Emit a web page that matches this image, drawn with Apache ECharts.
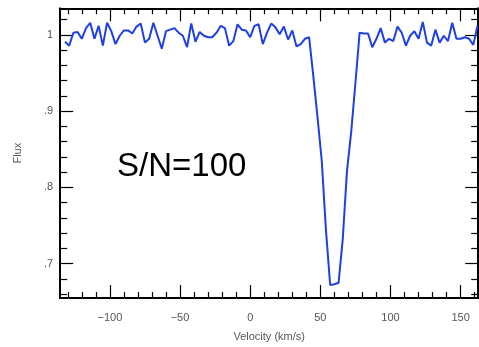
<!DOCTYPE html>
<html>
<head>
<meta charset="utf-8">
<script src="https://cdn.jsdelivr.net/npm/echarts@6/dist/echarts.min.js"></script>
<style>html,body{margin:0;padding:0;background:#fff}#c{width:479px;height:347px}</style>
</head>
<body>
<div id="c"></div>
<script>
const velocity = [-132,-129,-126,-123,-120,-117,-114,-111,-108,-105,-102,-99,-96,-93,-90,-87,-84,-81,-78,-75,-72,-69,-66,-63,-60,-57,-54,-51,-48,-45,-42,-39,-36,-33,-30,-27,-24,-21,-18,-15,-12,-9,-6,-3,0,3,6,9,12,15,18,21,24,27,30,33,36,39,42,45,48,51,54,57,60,63,66,69,72,75,78,81,84,87,90,93,96,99,102,105,108,111,114,117,120,123,126,129,132,135,138,141,144,147,150,153,156,159,162];
const flux = [0.991,0.986,1.003,1.004,0.995,1.009,1.016,0.995,1.012,0.986,1.016,1.005,0.988,0.999,1.006,1.006,1.002,1.011,1.015,0.990,0.995,1.016,0.999,0.982,1.005,1.007,1.009,1.003,0.999,0.984,1.015,0.991,1.004,0.999,0.997,0.997,1.003,1.012,1.009,0.986,0.992,1.014,
1.007,1.006,0.997,1.012,1.014,0.988,1.003,1.015,1.010,1.001,1.011,0.994,1.006,0.985,0.988,0.995,
0.997,0.946,0.892,0.835,0.744,0.672,0.673,0.675,0.733,0.822,0.873,0.937,
1.003,1.002,1.002,0.984,0.995,1.009,0.990,0.995,0.992,1.011,1.003,0.986,0.999,1.005,0.995,1.017,0.990,0.986,1.007,0.990,0.999,0.992,1.016,0.995,0.995,0.997,0.995,0.987,1.012];
const xMajorTicks = [-100,-50,0,50,100,150];
const xMinorTicks = [-130,-120,-110,-90,-80,-70,-60,-40,-30,-20,-10,10,20,30,40,60,70,80,90,110,120,130,140,160];
const yMajorTicks = [0.7,0.8,0.9,1.0];
const yMinorTicks = [0.66,0.68,0.72,0.74,0.76,0.78,0.82,0.84,0.86,0.88,0.92,0.94,0.96,0.98,1.02];
const labelText = 'S/N=100';
const xName = 'Velocity (km/s)';
const yName = 'Flux';

const X_MIN = -135.4, X_MAX = 162.5, Y_MIN = 0.655, Y_MAX = 1.035;
const lineStyle = {color:'#000', width:1.8};
const labelStyle = {color:'#555', fontFamily:'Liberation Sans', fontSize:11};

function xAx(pos, ticks, len, withLabel) {
  return {
    type:'value', position:pos, min:X_MIN, max:X_MAX,
    axisLine:{show:true, onZero:false, lineStyle},
    axisTick:{show:true, inside:true, length:len, customValues:ticks, lineStyle:{color:'#000', width:1.2}},
    axisLabel: withLabel ? Object.assign({show:true, customValues:ticks, margin:14,
      formatter:v => String(v).replace('-', '\u2212')}, labelStyle) : {show:false},
    splitLine:{show:false},
    name: withLabel ? xName : '', nameLocation:'middle', nameGap:33,
    nameTextStyle: labelStyle
  };
}
function yAx(pos, ticks, len, withLabel) {
  return {
    type:'value', position:pos, min:Y_MIN, max:Y_MAX,
    axisLine:{show:true, onZero:false, lineStyle},
    axisTick:{show:true, inside:true, length:len, customValues:ticks, lineStyle:{color:'#000', width:1.2}},
    axisLabel: withLabel ? Object.assign({show:true, customValues:ticks, margin:7,
      formatter:v => (Math.abs(v-1)<1e-9 ? '1' : String(+v.toFixed(2)).replace(/^0/, ''))}, labelStyle) : {show:false},
    splitLine:{show:false},
    name: withLabel ? yName : '', nameLocation:'middle', nameGap:37, nameRotate:90,
    nameTextStyle: labelStyle
  };
}

const chart = echarts.init(document.getElementById('c'), null, {renderer:'canvas'});
chart.setOption({
  animation:false,
  backgroundColor:'#fff',
  grid:{left:60.2, right:0.8, top:8.3, bottom:41, containLabel:false},
  xAxis:[xAx('bottom', xMajorTicks, 13, true), xAx('bottom', xMinorTicks, 6, false),
         xAx('top', xMajorTicks, 13, false), xAx('top', xMinorTicks, 6, false)],
  yAxis:[yAx('left', yMajorTicks, 13, true), yAx('left', yMinorTicks, 7, false),
         yAx('right', yMajorTicks, 13, false), yAx('right', yMinorTicks, 7, false)],
  series:[{
    type:'line', xAxisIndex:0, yAxisIndex:0,
    data: velocity.map((v,i)=>[v, flux[i]]),
    showSymbol:false, symbol:'none',
    lineStyle:{color:'#1f3fe6', width:2},
    clip:true
  }],
  graphic:[{
    type:'text', left:117, top:150,
    style:{text:labelText, fill:'#000', font:'33px "Liberation Sans", Arial, sans-serif'}
  }]
});
</script>
</body>
</html>
